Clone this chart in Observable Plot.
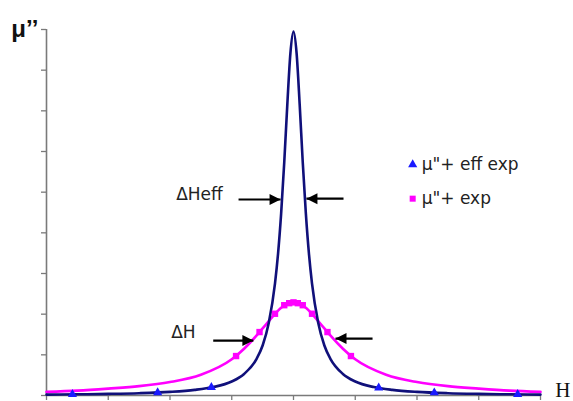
<!DOCTYPE html>
<html>
<head>
<meta charset="utf-8">
<script src="https://cdn.jsdelivr.net/npm/d3@7"></script>
<script src="https://cdn.jsdelivr.net/npm/@observablehq/plot@0.6"></script>
<style>
  html, body { margin: 0; padding: 0; background: #fff; }
  #chart { width: 573px; height: 401px; }
</style>
</head>
<body>
<div id="chart"></div>
<script>
// ---- data ----
const xTicks = [0, 1, 2, 3, 4, 5, 6, 7, 8];
const yTicks = [0, 1, 2, 3, 4, 5, 6, 7, 8, 9];

// μ"+ eff (navy line)
const effX = [0,0.5,1,1.5,2,2.4,2.7,3,3.2,3.4,3.5,3.6,3.7,3.75,3.8,3.85,3.9,3.95,4,4.05,4.1,4.15,4.2,4.25,4.3,4.4,4.5,4.6,4.8,5,5.3,5.6,6,6.5,7,7.5,8];
const effY = [0.022,0.029,0.040,0.057,0.089,0.138,0.207,0.344,0.53,0.895,1.23,1.79,2.75,3.49,4.48,5.73,7.16,8.42,8.95,8.42,7.16,5.73,4.48,3.49,2.75,1.79,1.23,0.895,0.53,0.344,0.207,0.138,0.089,0.057,0.040,0.029,0.022];
// μ"+ eff exp (blue triangles)
const effExpX = [0.42, 1.8, 2.67, 5.38, 6.28, 7.63];
const effExpY = [0.028, 0.074, 0.2, 0.19, 0.069, 0.027];

// μ" (magenta line)
const muX = [0,0.5,1,1.5,2,2.5,3,3.2,3.4,3.5,3.6,3.7,3.8,3.9,4,4.1,4.2,4.3,4.4,4.5,4.6,4.8,5,5.5,6,6.5,7,7.5,8];
const muY = [0.09,0.12,0.17,0.23,0.33,0.51,0.89,1.15,1.47,1.65,1.83,2.01,2.16,2.25,2.29,2.25,2.16,2.01,1.83,1.65,1.47,1.15,0.89,0.51,0.33,0.23,0.17,0.12,0.09];
// μ"+ exp (magenta squares)
const muExpX = [3.07, 3.45, 3.7, 3.85, 3.93, 4.0, 4.07, 4.15, 4.3, 4.55, 4.93];
const muExpY = [0.97, 1.56, 2.01, 2.22, 2.27, 2.29, 2.27, 2.22, 2.01, 1.56, 0.97];

// width arrows (data units): tail x, tip x, y
const arrowX1 = [3.11, 4.81, 2.70, 5.28];
const arrowX2 = [3.79, 4.21, 3.35, 4.68];
const arrowY  = [4.82, 4.84, 1.35, 1.40];

// annotations
const noteText = ["ΔHeff", "ΔH"];
const noteX = [2.10, 2.02];
const noteY = [4.94, 1.55];

const legendLabels = ["μ\"+ eff exp", "μ\"+ exp"];
const legendX = [5.93, 5.93];
const legendY = [5.68, 4.84];

const axisTitles = ["μ’’", "H"];

// ---- tables ----
const eff = effX.map((x, i) => ({x, y: effY[i]}));
const effExp = effExpX.map((x, i) => ({x, y: effExpY[i]}));
const mu = muX.map((x, i) => ({x, y: muY[i]}));
const muExp = muExpX.map((x, i) => ({x, y: muExpY[i]}));
const arrows = arrowX1.map((x1, i) => ({x1, x2: arrowX2[i], y: arrowY[i]}));
const notes = noteText.map((t, i) => ({t, x: noteX[i], y: noteY[i]}));
const legend = legendLabels.map((t, i) => ({t, x: legendX[i], y: legendY[i]}));

const headRight = {draw(ctx) { ctx.moveTo(0, 0); ctx.lineTo(-11, -5.5); ctx.lineTo(-11, 5.5); ctx.closePath(); }};
const headLeft  = {draw(ctx) { ctx.moveTo(0, 0); ctx.lineTo(11, -5.5); ctx.lineTo(11, 5.5); ctx.closePath(); }};

const navy = "#10107a";
const blue = "#1a1aff";
const magenta = "#ff00ff";
const axisGray = "#7a7a7a";

const chart = Plot.plot({
  width: 573,
  height: 401,
  marginLeft: 46,
  marginRight: 33,
  marginTop: 29,
  marginBottom: 6,
  x: {domain: [0, 8]},
  y: {domain: [0, 9]},
  style: {fontFamily: "'DejaVu Sans', sans-serif", background: "#fff"},
  marks: [
    Plot.axisX({ticks: xTicks, tickSize: 5, tickFormat: () => "", label: null, stroke: axisGray, strokeWidth: 1.3}),
    Plot.axisY({ticks: yTicks, tickSize: 5, tickFormat: () => "", label: null, stroke: axisGray, strokeWidth: 1.3}),
    Plot.ruleX([0], {stroke: axisGray, strokeWidth: 1.6}),
    Plot.ruleY([0], {stroke: axisGray, strokeWidth: 1.6}),
    Plot.line(mu, {x: "x", y: "y", stroke: magenta, strokeWidth: 2.6, curve: "monotone-x"}),
    Plot.line(eff, {x: "x", y: "y", stroke: navy, strokeWidth: 2.6, curve: "monotone-x"}),
    Plot.dot(muExp, {x: "x", y: "y", symbol: "square", r: 3.6, fill: magenta, stroke: "none"}),
    Plot.dot(effExp, {x: "x", y: "y", symbol: "triangle", r: 3.4, fill: blue, stroke: "none"}),
    Plot.link(arrows, {x1: "x1", x2: "x2", y1: "y", y2: "y", stroke: "#000", strokeWidth: 2.2}),
    Plot.dot(arrows.filter(d => d.x2 > d.x1), {x: "x2", y: "y", symbol: headRight, r: 4, fill: "#000", stroke: "none"}),
    Plot.dot(arrows.filter(d => d.x2 < d.x1), {x: "x2", y: "y", symbol: headLeft, r: 4, fill: "#000", stroke: "none"}),
    Plot.text(notes, {x: "x", y: "y", text: "t", textAnchor: "start", fontSize: 17, fill: "#222"}),
    Plot.dot(legend.slice(0, 1), {x: "x", y: "y", symbol: "triangle", r: 3.4, fill: blue, stroke: "none"}),
    Plot.dot(legend.slice(1, 2), {x: "x", y: "y", symbol: "square", r: 3.4, fill: magenta, stroke: "none"}),
    Plot.text(legend, {x: "x", y: "y", text: "t", textAnchor: "start", dx: 9, fontSize: 17, fill: "#222"}),
    Plot.text([axisTitles[0]], {x: -0.57, y: 9.0, text: d => d, textAnchor: "start", fontSize: 24, fontWeight: "bold", fontFamily: "'Liberation Sans', sans-serif", fill: "#111"}),
    Plot.text([axisTitles[1]], {x: 8.24, y: 0.14, text: d => d, textAnchor: "start", fontSize: 21, fontFamily: "'Liberation Serif', serif", fill: "#111"})
  ]
});
document.getElementById("chart").appendChild(chart);
</script>
</body>
</html>
